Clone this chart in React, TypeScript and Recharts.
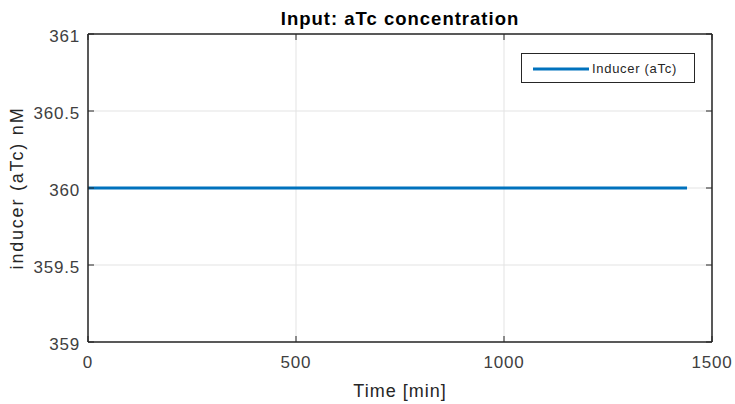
import React from "react";
import { LineChart, Line, XAxis, YAxis, CartesianGrid, Legend, Label } from "recharts";

const timeMin = [0, 700, 1440];
const inducerATc = [360, 360, 360];
const xTicks = [0, 500, 1000, 1500];
const yTicks = [359, 359.5, 360, 360.5, 361];
const seriesName = "Inducer (aTc)";
const titleText = "Input: aTc concentration";
const xLabelText = "Time [min]";
const yLabelText = "inducer (aTc) nM";

const data = timeMin.map((t, i) => ({ t, v: inducerATc[i] }));

const FONT = "'Liberation Sans', Arial, Helvetica, sans-serif";
const BLUE = "#0072BD";
const AX = "#262626";
const TICKC = "#404040";
const TL = 6;

const BottomTick = (p: any) => (
  <g>
    <line x1={p.x} y1={p.y} x2={p.x} y2={p.y - TL} stroke={AX} strokeWidth={1} />
    <text x={p.x} y={p.y + 26} textAnchor="middle" fontSize={17} letterSpacing={0.8} fill={TICKC} fontFamily={FONT}>
      {p.payload.value}
    </text>
  </g>
);
const TopTick = (p: any) => (
  <line x1={p.x} y1={p.y} x2={p.x} y2={p.y + TL} stroke={AX} strokeWidth={1} />
);
const LeftTick = (p: any) => (
  <g>
    <line x1={p.x} y1={p.y} x2={p.x + TL} y2={p.y} stroke={AX} strokeWidth={1} />
    <text x={p.x - 8} y={p.y + 8} textAnchor="end" fontSize={17} letterSpacing={0.8} fill={TICKC} fontFamily={FONT}>
      {p.payload.value}
    </text>
  </g>
);
const RightTick = (p: any) => (
  <line x1={p.x} y1={p.y} x2={p.x - TL} y2={p.y} stroke={AX} strokeWidth={1} />
);

const LegendBox = () => (
  <div
    style={{
      width: 172,
      height: 28,
      border: `1.5px solid ${AX}`,
      background: "#fff",
      display: "flex",
      alignItems: "center",
      boxSizing: "content-box",
    }}
  >
    <svg width={70} height={28} style={{ flex: "none" }}>
      <line x1={11} y1={15} x2={67} y2={15} stroke={BLUE} strokeWidth={3} />
    </svg>
    <span style={{ fontFamily: FONT, fontSize: 13, letterSpacing: 0.7, color: "#262626", whiteSpace: "nowrap" }}>
      {seriesName}
    </span>
  </div>
);

const YLabel = (props: any) => {
  const vb = props.viewBox;
  const cx = vb.x + 9;
  const cy = vb.y + vb.height / 2;
  return (
    <text
      x={cx}
      y={cy}
      transform={`rotate(-90, ${cx}, ${cy})`}
      textAnchor="middle"
      dominantBaseline="central"
      fontSize={18}
      letterSpacing={1.8}
      fill="#262626"
      fontFamily={FONT}
    >
      {yLabelText}
    </text>
  );
};

export default function App() {
  return (
    <div style={{ position: "absolute", left: 0, top: 0, width: 735, height: 404, background: "#fff" }}>
      <LineChart width={735} height={404} data={data} margin={{ top: 33, right: 22, bottom: 4, left: 8 }}>
        <CartesianGrid xAxisId="b" yAxisId="l" stroke="#e3e3e3" strokeWidth={1} />
        <XAxis
          xAxisId="b"
          dataKey="t"
          type="number"
          domain={[0, 1500]}
          ticks={xTicks}
          height={58}
          tickSize={0}
          tickMargin={0}
          tickLine={false}
          axisLine={{ stroke: AX, strokeWidth: 1.5 }}
          tick={<BottomTick />}
          interval={0}
        >
          <Label
            value={xLabelText}
            position="insideBottom"
            offset={3}
            fontSize={18}
            letterSpacing={1}
            fill="#262626"
            fontFamily={FONT}
          />
        </XAxis>
        <XAxis
          xAxisId="t"
          dataKey="t"
          orientation="top"
          type="number"
          domain={[0, 1500]}
          ticks={xTicks}
          height={1}
          tickSize={0}
          tickMargin={0}
          tickLine={false}
          axisLine={{ stroke: AX, strokeWidth: 1.5 }}
          tick={<TopTick />}
          interval={0}
        >
          <Label
            value={titleText}
            position="top"
            offset={8}
            fontSize={18.5}
            letterSpacing={1}
            fontWeight="bold"
            fill="#000"
            fontFamily={FONT}
          />
        </XAxis>
        <YAxis
          yAxisId="l"
          type="number"
          domain={[359, 361]}
          ticks={yTicks}
          width={80}
          tickSize={0}
          tickMargin={0}
          tickLine={false}
          axisLine={{ stroke: AX, strokeWidth: 1.5 }}
          tick={<LeftTick />}
          interval={0}
          label={{ content: (p: any) => <YLabel {...p} /> }}
        />
        <YAxis
          yAxisId="r"
          orientation="right"
          type="number"
          domain={[359, 361]}
          ticks={yTicks}
          width={1}
          tickSize={0}
          tickMargin={0}
          tickLine={false}
          axisLine={{ stroke: AX, strokeWidth: 1.5 }}
          tick={<RightTick />}
          interval={0}
        />
        <Legend
          layout="horizontal"
          verticalAlign="middle"
          align="center"
          wrapperStyle={{ position: "absolute", top: 53, left: 521, width: 175, height: 31 }}
          content={() => <LegendBox />}
        />
        <Line
          xAxisId="t"
          yAxisId="r"
          dataKey="v"
          stroke="none"
          strokeWidth={0}
          dot={false}
          legendType="none"
          isAnimationActive={false}
        />
        <Line
          xAxisId="b"
          yAxisId="l"
          dataKey="v"
          name={seriesName}
          stroke={BLUE}
          strokeWidth={3}
          dot={false}
          isAnimationActive={false}
        />
      </LineChart>
    </div>
  );
}
